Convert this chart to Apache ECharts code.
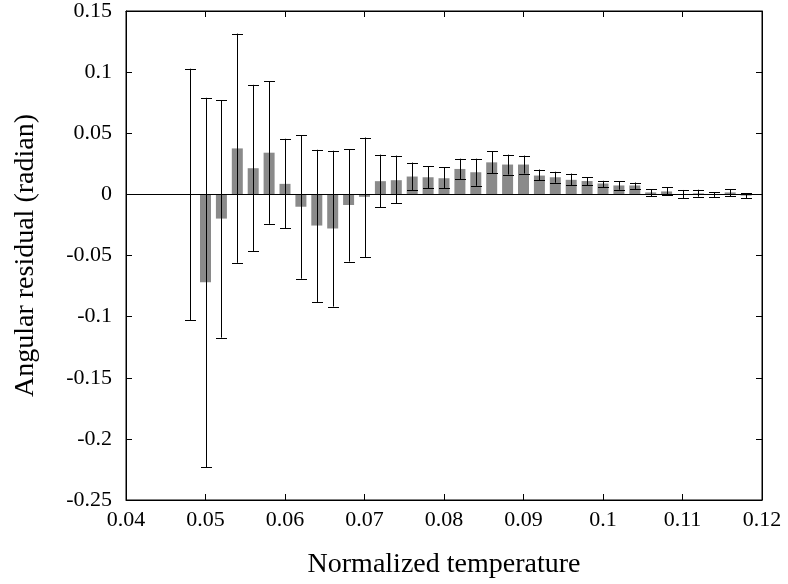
<!DOCTYPE html>
<html>
<head>
<meta charset="utf-8">
<script src="https://cdn.jsdelivr.net/npm/echarts@6/dist/echarts.min.js"></script>
<style>html,body{margin:0;padding:0;background:#fff;}#c{width:788px;height:584px;}</style>
</head>
<body>
<div id="c"></div>
<script>
var temps = [0.048,0.050,0.052,0.054,0.056,0.058,0.060,0.062,0.064,0.066,0.068,0.070,
             0.072,0.074,0.076,0.078,0.080,0.082,0.084,0.086,0.088,0.090,0.092,0.094,
             0.096,0.098,0.100,0.102,0.104,0.106,0.108,0.110,0.112,0.114,0.116,0.118];
var residuals = [0,-0.0718,-0.0198,0.0376,0.0214,0.0341,0.0086,-0.0101,-0.0255,-0.0279,-0.0087,-0.002,
                 0.0108,0.0116,0.0146,0.014,0.0132,0.0208,0.0181,0.0262,0.0244,0.0244,0.0154,0.014,
                 0.0119,0.0109,0.0089,0.0073,0.0073,0.0016,0.0024,0.0003,0.0008,0,0.0016,-0.001];
var lowErr = [-0.1031,-0.2233,-0.1172,-0.056,-0.0463,-0.0241,-0.0279,-0.069,-0.088,-0.0918,-0.055,-0.0512,
              -0.0106,-0.0073,0.0032,0.0049,0.0049,0.0124,0.007,0.0173,0.0162,0.017,0.0116,0.0095,
              0.0076,0.0076,0.006,0.0038,0.0041,-0.0016,-0.0005,-0.003,-0.0019,-0.0021,-0.0016,-0.003];
var highErr = [0.1028,0.079,0.0771,0.1315,0.0896,0.0926,0.0455,0.0484,0.0365,0.0357,0.037,0.0465,
               0.0325,0.0317,0.026,0.0232,0.0222,0.0292,0.0292,0.0354,0.0325,0.0317,0.0203,0.0185,
               0.017,0.0141,0.0111,0.0106,0.0097,0.0041,0.006,0.0036,0.0038,0.0019,0.0044,0.0008];
var xTitle = 'Normalized temperature';
var yTitle = 'Angular residual (radian)';

var FONT = 'Liberation Serif';
function fmt(v){ return String(parseFloat(v.toFixed(3))); }

var barData = temps.map(function(t,i){ return [t, residuals[i]]; });
var errData = temps.map(function(t,i){ return [t, lowErr[i], highErr[i]]; });

var chart = echarts.init(document.getElementById('c'), null, {renderer:'canvas'});
chart.setOption({
  animation:false,
  backgroundColor:'#fff',
  grid:{left:126, right:26, top:10, bottom:82, show:true, borderColor:'#000', borderWidth:1, backgroundColor:'transparent'},
  xAxis:[{
    type:'value', min:0.04, max:0.12, interval:0.01,
    name:xTitle, nameLocation:'middle', nameGap:51,
    nameTextStyle:{fontFamily:FONT, fontSize:28, color:'#000'},
    axisLine:{show:true, onZero:false, lineStyle:{color:'#000', width:1}},
    axisTick:{show:true, inside:true, length:6, lineStyle:{color:'#000'}},
    axisLabel:{fontFamily:FONT, fontSize:22, color:'#000', margin:9, formatter:fmt},
    splitLine:{show:false}
  },{
    type:'value', position:'top', min:0.04, max:0.12, interval:0.01,
    axisLine:{show:true, onZero:false, lineStyle:{color:'#000'}},
    axisTick:{show:true, inside:true, length:6, lineStyle:{color:'#000'}},
    axisLabel:{show:false}, splitLine:{show:false}
  }],
  yAxis:[{
    type:'value', min:-0.25, max:0.15, interval:0.05,
    name:yTitle, nameLocation:'middle', nameGap:86,
    nameTextStyle:{fontFamily:FONT, fontSize:28, color:'#000'},
    axisLine:{show:true, onZero:false, lineStyle:{color:'#000'}},
    axisTick:{show:true, inside:true, length:6, lineStyle:{color:'#000'}},
    axisLabel:{fontFamily:FONT, fontSize:22, color:'#000', margin:14, formatter:fmt},
    splitLine:{show:false}
  },{
    type:'value', position:'right', min:-0.25, max:0.15, interval:0.05,
    axisLine:{show:true, onZero:false, lineStyle:{color:'#000'}},
    axisTick:{show:true, inside:true, length:6, lineStyle:{color:'#000'}},
    axisLabel:{show:false}, splitLine:{show:false}
  }],
  series:[{
    type:'bar', data:barData, barWidth:11, itemStyle:{color:'#8a8a8a'},
    markLine:{silent:true, symbol:'none', label:{show:false},
      lineStyle:{color:'#000', type:'solid', width:1},
      data:[{yAxis:0}]}
  },{
    type:'custom', data:errData,
    renderItem:function(params, api){
      var x = api.value(0);
      var lo = api.coord([x, api.value(1)]);
      var hi = api.coord([x, api.value(2)]);
      var cx = Math.round(lo[0]) + 0.5;
      var h = 5.5;
      var st = {stroke:'#000', lineWidth:1};
      return {type:'group', children:[
        {type:'line', shape:{x1:cx, y1:lo[1], x2:cx, y2:hi[1]}, style:st},
        {type:'line', shape:{x1:cx-h, y1:Math.round(lo[1])+0.5, x2:cx+h, y2:Math.round(lo[1])+0.5}, style:st},
        {type:'line', shape:{x1:cx-h, y1:Math.round(hi[1])+0.5, x2:cx+h, y2:Math.round(hi[1])+0.5}, style:st}
      ]};
    },
    z:5
  }]
});
</script>
</body>
</html>
